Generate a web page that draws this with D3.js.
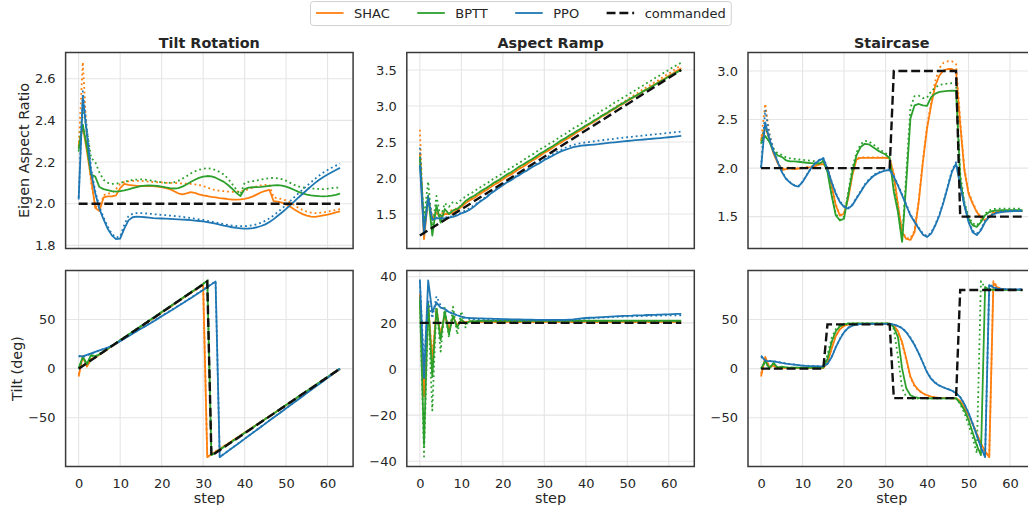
<!DOCTYPE html>
<html>
<head>
<meta charset="utf-8">
<script src="https://cdn.jsdelivr.net/npm/d3@7"></script>
<style>
  body { margin: 0; background: #fff; }
  svg { display: block; }
  text { font-family: "DejaVu Sans", sans-serif; fill: #262626; }
</style>
</head>
<body>
<svg id="chart" width="1028" height="505"></svg>
<script>
// ---------- data ----------
const steps = d3.range(64);
const methods = ["SHAC", "BPTT", "PPO"];
const titles = ["Tilt Rotation", "Aspect Ramp", "Staircase"];
const rowLabels = ["Eigen Aspect Ratio", "Tilt (deg)"];
const xTicks = [0, 10, 20, 30, 40, 50, 60];
const xLimits = [-3.15, 66.15];

// Tilt Rotation: eigen aspect ratio
const trAspShac = [2.28,2.37,2.25,2.12,1.98,1.965,2.03,2.035, 2.035,2.04,2.075,2.095,2.09,2.088,2.086,2.085,
  2.085,2.085,2.084,2.082,2.08,2.075,2.07,2.06, 2.05,2.045,2.05,2.056,2.052,2.045,2.04,2.037,
  2.033,2.03,2.027,2.025,2.022,2.02,2.02,2.021, 2.023,2.028,2.035,2.045,2.055,2.062,2.066,2.012,
  2.01,2.005,1.997,1.985,1.972,1.96,1.95,1.943, 1.938,1.937,1.94,1.944,1.948,1.953,1.958,1.963];
const trAspShacDot = [2.27,2.68,2.30,2.10,1.99,1.975,2.04,2.05, 2.05,2.07,2.095,2.105,2.107,2.11,2.11,2.11,
  2.108,2.106,2.104,2.103,2.102,2.1,2.1,2.1, 2.098,2.097,2.096,2.095,2.093,2.09,2.085,2.078,
  2.07,2.065,2.062,2.06,2.058,2.057,2.058,2.06, 2.063,2.07,2.077,2.083,2.088,2.09,2.09,2.03,
  2.027,2.022,2.016,2.005,1.993,1.98,1.97,1.962, 1.957,1.955,1.956,1.958,1.962,1.966,1.97,1.974];
const trAspBptt = [2.26,2.38,2.27,2.14,2.13,2.08,2.07,2.065, 2.06,2.058,2.06,2.064,2.069,2.075,2.08,2.084,
  2.087,2.088,2.087,2.085,2.082,2.078,2.075,2.073, 2.075,2.082,2.092,2.104,2.115,2.124,2.13,2.133,
  2.131,2.125,2.115,2.105,2.09,2.072,2.052,2.037, 2.07,2.077,2.079,2.08,2.081,2.083,2.086,2.088,
  2.089,2.087,2.082,2.075,2.066,2.057,2.05,2.044, 2.04,2.038,2.036,2.035,2.036,2.039,2.043,2.048];
const trAspBpttDot = [2.25,2.46,2.35,2.22,2.2,2.15,2.115,2.1, 2.095,2.096,2.1,2.105,2.11,2.114,2.116,2.117,
  2.116,2.113,2.11,2.106,2.103,2.1,2.1,2.103, 2.11,2.12,2.132,2.145,2.155,2.163,2.168,2.17,
  2.168,2.162,2.152,2.14,2.12,2.095,2.068,2.045, 2.1,2.105,2.108,2.112,2.116,2.12,2.123,2.124,
  2.122,2.118,2.11,2.1,2.09,2.083,2.078,2.075, 2.073,2.072,2.071,2.07,2.072,2.075,2.077,2.078];
const trAspPpo = [2.02,2.51,2.33,2.15,2.05,1.975,1.925,1.88, 1.848,1.83,1.832,1.88,1.92,1.935,1.938,1.937,
  1.935,1.933,1.931,1.93,1.929,1.928,1.927,1.926, 1.925,1.924,1.923,1.921,1.919,1.917,1.915,1.912,
  1.908,1.904,1.9,1.895,1.891,1.887,1.884,1.882, 1.88,1.881,1.883,1.887,1.893,1.901,1.912,1.926,
  1.942,1.958,1.975,1.993,2.011,2.03,2.048,2.066, 2.083,2.1,2.115,2.128,2.14,2.151,2.162,2.172];
const trAspPpoDot = [2.03,2.54,2.36,2.17,2.06,1.985,1.935,1.89, 1.855,1.838,1.842,1.9,1.94,1.952,1.955,1.955,
  1.954,1.952,1.95,1.948,1.946,1.945,1.943,1.941, 1.939,1.937,1.934,1.931,1.928,1.925,1.922,1.918,
  1.914,1.91,1.906,1.902,1.898,1.895,1.893,1.892, 1.892,1.894,1.897,1.902,1.909,1.918,1.93,1.944,
  1.96,1.977,1.995,2.013,2.032,2.05,2.068,2.086, 2.103,2.12,2.136,2.15,2.162,2.173,2.183,2.192];
const trAspCmdSteps = [0, 63];
const trAspCmdVals = [2.0, 2.0];

// Aspect Ramp: eigen aspect ratio
const arAspShac = [2.35,1.15,1.72,1.42,1.52,1.45,1.50,1.50, 1.52,1.55,1.60,1.65,1.69,1.72,1.76,1.80,
  1.83,1.87,1.91,1.94,1.98,2.02,2.05,2.09, 2.13,2.16,2.20,2.24,2.27,2.31,2.35,2.38,
  2.42,2.46,2.49,2.53,2.56,2.60,2.64,2.67, 2.71,2.75,2.78,2.82,2.86,2.89,2.93,2.96,
  3.00,3.03,3.07,3.10,3.14,3.17,3.21,3.24, 3.28,3.31,3.35,3.38,3.42,3.45,3.49,3.525];
const arAspShacDot = [2.67,1.2,1.75,1.45,1.55,1.5,1.53,1.54, 1.56,1.58,1.62,1.67,1.70,1.74,1.78,1.81,
  1.85,1.89,1.92,1.96,2.00,2.03,2.07,2.10, 2.14,2.18,2.21,2.25,2.29,2.32,2.36,2.40,
  2.43,2.47,2.51,2.54,2.58,2.62,2.65,2.69, 2.73,2.76,2.80,2.83,2.87,2.91,2.94,2.98,
  3.02,3.05,3.09,3.13,3.16,3.20,3.24,3.27, 3.31,3.34,3.38,3.42,3.45,3.49,3.53,3.565];
const arAspBptt = [2.3,1.3,1.75,1.2,1.62,1.38,1.57,1.5, 1.55,1.57,1.62,1.68,1.72,1.75,1.79,1.83,
  1.86,1.90,1.94,1.97,2.01,2.05,2.08,2.12, 2.16,2.19,2.23,2.26,2.30,2.34,2.37,2.41,
  2.44,2.48,2.52,2.55,2.59,2.62,2.66,2.69, 2.73,2.76,2.80,2.83,2.87,2.90,2.94,2.97,
  3.01,3.04,3.075,3.11,3.14,3.175,3.21,3.24, 3.27,3.31,3.34,3.37,3.41,3.44,3.47,3.5];
const arAspBpttDot = [2.25,1.45,1.95,1.3,1.75,1.45,1.65,1.6, 1.67,1.65,1.7,1.74,1.78,1.81,1.85,1.89,
  1.92,1.96,2.0,2.03,2.07,2.11,2.14,2.18, 2.21,2.25,2.29,2.32,2.36,2.40,2.43,2.47,
  2.50,2.54,2.58,2.61,2.65,2.69,2.72,2.76, 2.79,2.83,2.87,2.90,2.94,2.97,3.01,3.05,
  3.08,3.12,3.15,3.19,3.22,3.26,3.29,3.33, 3.36,3.40,3.43,3.47,3.50,3.54,3.57,3.60];
const arAspPpo = [2.18,1.22,1.72,1.42,1.44,1.44,1.44,1.45, 1.46,1.48,1.51,1.53,1.56,1.60,1.65,1.69,
  1.73,1.78,1.82,1.86,1.90,1.94,1.97,2.01, 2.04,2.08,2.11,2.15,2.18,2.21,2.25,2.28,
  2.31,2.34,2.37,2.39,2.41,2.43,2.44,2.45, 2.455,2.46,2.465,2.47,2.477,2.484,2.49,2.496,
  2.502,2.508,2.514,2.52,2.525,2.53,2.535,2.54, 2.545,2.55,2.555,2.56,2.566,2.572,2.578,2.584];
const arAspPpoDot = [2.42,1.28,1.76,1.44,1.45,1.45,1.45,1.46, 1.47,1.49,1.52,1.55,1.58,1.62,1.66,1.70,
  1.74,1.79,1.83,1.87,1.91,1.95,1.98,2.02, 2.05,2.09,2.12,2.16,2.19,2.23,2.26,2.30,
  2.33,2.36,2.39,2.42,2.44,2.46,2.475,2.485, 2.495,2.503,2.51,2.518,2.525,2.532,2.539,2.546,
  2.553,2.56,2.566,2.572,2.578,2.584,2.59,2.596, 2.602,2.608,2.614,2.62,2.626,2.632,2.638,2.645];
const arAspCmdSteps = [0, 63];
const arAspCmdVals = [1.2, 3.5];

// Staircase: eigen aspect ratio
const scAspShac = [2.3,2.42,2.3,2.15,2.05,1.98,1.99,2.0, 1.99,1.995,2.0,2.005,2.01,2.02,2.035,2.04,
  2.0,1.82,1.617,1.51,1.53,1.686,1.926,2.09, 2.105,2.105,2.105,2.105,2.105,2.105,2.105,2.1,
  1.926,1.617,1.34,1.27,1.26,1.34,1.65,2.06, 2.406,2.646,2.85,2.955,3.007,3.02,3.02,3.0,
  2.45,1.98,1.74,1.634,1.547,1.49,1.46,1.497, 1.54,1.55,1.553,1.555,1.556,1.556,1.556,1.556];
const scAspShacDot = [2.28,2.66,2.35,2.17,2.06,1.99,2.0,2.01, 2.0,2.0,2.005,2.01,2.015,2.025,2.04,2.045,
  2.02,1.84,1.63,1.52,1.54,1.7,1.94,2.1, 2.11,2.11,2.11,2.11,2.11,2.11,2.11,2.105,
  1.94,1.63,1.35,1.28,1.275,1.36,1.67,2.08, 2.43,2.68,2.9,3.03,3.085,3.1,3.1,3.07,
  2.5,2.0,1.755,1.645,1.555,1.495,1.465,1.5, 1.545,1.555,1.558,1.56,1.56,1.56,1.56,1.56];
const scAspBptt = [2.27,2.33,2.27,2.17,2.13,2.115,2.08,2.07, 2.068,2.065,2.06,2.055,2.05,2.045,2.045,2.07,
  1.96,1.72,1.514,1.46,1.48,1.72,1.96,2.13, 2.217,2.25,2.245,2.215,2.185,2.16,2.14,2.10,
  1.754,1.547,1.24,1.85,2.51,2.646,2.66,2.645, 2.64,2.73,2.767,2.784,2.79,2.794,2.796,2.796,
  1.89,1.617,1.48,1.41,1.394,1.445,1.514,1.547, 1.56,1.565,1.567,1.567,1.567,1.567,1.567,1.567];
const scAspBpttDot = [2.25,2.44,2.3,2.2,2.15,2.135,2.11,2.1, 2.095,2.09,2.085,2.08,2.075,2.07,2.065,2.08,
  1.98,1.74,1.53,1.47,1.5,1.75,2.0,2.16, 2.245,2.28,2.275,2.245,2.21,2.18,2.155,2.11,
  1.8,1.57,1.25,1.95,2.62,2.74,2.745,2.72, 2.725,2.79,2.83,2.855,2.865,2.87,2.875,2.875,
  1.95,1.65,1.5,1.43,1.41,1.46,1.53,1.565, 1.578,1.582,1.583,1.583,1.583,1.583,1.583,1.583];
const scAspPpo = [2.0,2.47,2.30,2.17,2.065,1.96,1.89,1.85, 1.82,1.81,1.857,1.926,1.995,2.046,2.08,2.10,
  1.99,1.857,1.737,1.65,1.60,1.583,1.617,1.686, 1.754,1.823,1.874,1.916,1.943,1.96,1.975,1.98,
  1.91,1.82,1.72,1.617,1.514,1.445,1.377,1.315, 1.29,1.325,1.41,1.514,1.65,1.806,1.96,2.046,
  1.82,1.617,1.445,1.34,1.31,1.36,1.445,1.497, 1.524,1.54,1.547,1.552,1.555,1.556,1.557,1.557];
const scAspPpoDot = [2.01,2.60,2.35,2.19,2.07,1.965,1.895,1.855, 1.825,1.815,1.86,1.93,2.0,2.05,2.085,2.105,
  2.0,1.865,1.745,1.658,1.608,1.59,1.625,1.695, 1.763,1.832,1.883,1.924,1.951,1.968,1.982,1.988,
  1.92,1.83,1.73,1.627,1.524,1.455,1.387,1.326, 1.30,1.335,1.42,1.525,1.662,1.818,1.975,2.06,
  1.835,1.63,1.458,1.355,1.325,1.372,1.455,1.506, 1.532,1.548,1.555,1.559,1.562,1.563,1.564,1.564];
const scAspCmdSteps = [0, 31, 32, 47, 48, 63];
const scAspCmdVals = [2.0, 2.0, 3.0, 3.0, 1.5, 1.5];

// Tilt Rotation: tilt (deg)
const trTiltShac = [-8,13,2,10,11,14,17,20, 22.8,25.6,28.4,31.2,34.1,37,39.8,42.7,
  45.5,48.4,51.2,54.1,57,59.8,62.7,65.5, 68.4,71.3,74.1,77,79.8,82.7,85.5,-90,
  -87,-84.5,-81.8,-79,-76.3,-73.5,-70.8,-68, -65.2,-62.4,-59.6,-56.8,-54,-51.2,-48.4,-45.6,
  -42.8,-40,-37.2,-34.4,-31.6,-28.8,-26,-23.2, -20.4,-17.6,-14.8,-12,-9.2,-6.3,-3.4,-0.5];
const trTiltShacDot = [-6,11,3,9,11.5,14.3,17.2,20.1, 22.9,25.7,28.5,31.3,34.2,37.1,39.9,42.8,
  45.6,48.5,51.3,54.2,57.1,59.9,62.8,65.6, 68.5,71.4,74.2,77.1,79.9,82.8,85.7,-89.5,
  -86.8,-84.2,-81.5,-78.8,-76,-73.3,-70.5,-67.8, -65,-62.2,-59.4,-56.6,-53.8,-51,-48.2,-45.4,
  -42.6,-39.8,-37,-34.2,-31.4,-28.6,-25.8,-23, -20.2,-17.4,-14.6,-11.8,-9,-6.1,-3.2,-0.3];
const trTiltBptt = [0.5,12,5,14,12.5,14.5,17.5,20.3, 23.2,26,28.9,31.7,34.6,37.5,40.3,43.2,
  46,48.9,51.7,54.6,57.5,60.3,63.2,66, 68.9,71.8,74.6,77.5,80.3,83.2,86.1,89.5,
  -88,-85.3,-82.5,-79.7,-76.9,-74,-71.2,-68.3, -65.5,-62.6,-59.8,-56.9,-54.1,-51.2,-48.4,-45.5,
  -42.7,-39.8,-37,-34.1,-31.3,-28.4,-25.6,-22.7, -19.9,-17,-14.2,-11.3,-8.5,-5.6,-2.8,0.3];
const trTiltBpttDot = [0,10.5,4,13,12,15,17.8,20.6, 23.4,26.2,29.1,31.9,34.8,37.7,40.5,43.4,
  46.2,49.1,51.9,54.8,57.7,60.5,63.4,66.2, 69.1,72,74.8,77.7,80.5,83.4,86.3,89.8,
  -87.8,-85.1,-82.3,-79.5,-76.7,-73.8,-71,-68.1, -65.3,-62.4,-59.6,-56.7,-53.9,-51,-48.2,-45.3,
  -42.5,-39.6,-36.8,-33.9,-31.1,-28.2,-25.4,-22.5, -19.7,-16.8,-14,-11.1,-8.3,-5.4,-2.6,0.5];
const trTiltPpo = [13,12.5,14,15.5,17,18.5,20,21.5, 23.2,25.5,28,30.5,33,35.5,38,40.5,
  43,45.5,48,50.6,53.2,55.8,58.4,61, 63.6,66.3,69,71.7,74.4,77.2,80,82.8,
  85.7,88.6,-90,-86.9,-83.8,-80.7,-77.6,-74.5, -71.4,-68.3,-65.2,-62.1,-59,-55.9,-52.8,-49.7,
  -46.6,-43.5,-40.4,-37.3,-34.2,-31.1,-28,-24.9, -21.8,-18.7,-15.6,-12.5,-9.4,-6.3,-3.2,-0.1];
const trTiltPpoDot = [12.5,12,13.6,15.2,16.8,18.4,20,21.6, 23.4,25.8,28.3,30.8,33.3,35.8,38.3,40.8,
  43.3,45.8,48.3,50.9,53.5,56.1,58.7,61.3, 63.9,66.6,69.3,72,74.7,77.5,80.3,83.1,
  86,88.9,-89.8,-86.7,-83.6,-80.5,-77.4,-74.3, -71.2,-68.1,-65,-61.9,-58.8,-55.7,-52.6,-49.5,
  -46.4,-43.3,-40.2,-37.1,-34,-30.9,-27.8,-24.7, -21.6,-18.5,-15.4,-12.3,-9.2,-6.1,-3,0.1];
const trTiltCmdSteps = [0, 31, 32, 63];
const trTiltCmdVals = [0, 88.6, -88.6, 0];

// Aspect Ramp: tilt (deg)
const arTiltShac = [32.7,-12,28,3,26,14,24,17, 22.5,19,21,20.2,20.6,20.4,20.5,20.4,
  20.4,20.4,20.4,20.4,20.4,20.4,20.4,20.4, 20.4,20.4,20.4,20.4,20.4,20.4,20.4,20.4,
  20.4,20.4,20.4,20.4,20.4,20.4,20.4,20.4, 20.4,20.4,20.4,20.4,20.4,20.4,20.4,20.4,
  20.4,20.4,20.4,20.4,20.4,20.4,20.4,20.4, 20.4,20.4,20.4,20.4,20.4,20.4,20.4,20.4];
const arTiltShacDot = [32,-8,27,6,25,15.5,23.5,17.5, 22,19.3,20.8,20.2,20.5,20.4,20.4,20.4,
  20.3,20.3,20.3,20.3,20.3,20.3,20.3,20.3, 20.3,20.3,20.3,20.3,20.3,20.3,20.3,20.3,
  20.3,20.3,20.3,20.3,20.3,20.3,20.3,20.3, 20.3,20.3,20.3,20.3,20.3,20.3,20.3,20.3,
  20.3,20.3,20.3,20.3,20.3,20.3,20.3,20.3, 20.3,20.3,20.3,20.3,20.3,20.3,20.3,20.3];
const arTiltBptt = [30,-33,29,-3.5,26,12.5,25,15, 23,18,21.5,19.5,20.7,20.6,20.8,20.9,
  20.9,20.9,20.9,20.9,20.9,20.9,20.9,20.9, 20.9,20.9,20.9,20.9,20.9,20.9,20.9,20.9,
  20.9,20.9,20.9,20.9,20.9,20.9,20.9,20.9, 20.9,20.9,20.9,20.9,20.9,20.9,20.9,20.9,
  20.9,20.9,20.9,20.9,20.9,20.9,20.9,20.9, 20.9,20.9,20.9,20.9,20.9,20.9,20.9,20.9];
const arTiltBpttDot = [31,-38,27,-18,28,7.5,26.5,13.5, 27,15,25,18,22,20.5,21,20.8,
  20.8,20.8,20.8,20.8,20.8,20.8,20.8,20.8, 20.8,20.8,20.8,20.8,20.8,20.8,20.8,20.8,
  20.8,20.8,20.8,20.8,20.8,20.8,20.8,20.8, 20.8,20.8,20.8,20.8,20.8,20.8,20.8,20.8,
  20.8,20.8,20.8,20.8,20.8,20.8,20.8,20.8, 20.8,20.8,20.8,20.8,20.8,20.8,20.8,20.8];
const arTiltPpo = [38.8,-4,38.4,24.5,28.8,26.6,26,24.7, 24,23.3,22.7,22.3,22.1,22,21.9,21.9,
  21.8,21.8,21.7,21.7,21.6,21.6,21.5,21.5, 21.5,21.4,21.4,21.4,21.3,21.3,21.3,21.3,
  21.3,21.3,21.3,21.3,21.4,21.5,21.7,21.9, 22.1,22.2,22.3,22.4,22.5,22.6,22.7,22.8,
  22.9,23.0,23.05,23.1,23.2,23.25,23.3,23.4, 23.45,23.5,23.6,23.65,23.7,23.8,23.85,23.9];
const arTiltPpoDot = [38,2,30,22,31.5,27.5,25.5,24.8, 24,23.3,22.6,22.1,21.8,21.6,21.5,21.4,
  21.4,21.3,21.3,21.2,21.2,21.2,21.1,21.1, 21.1,21.1,21.1,21.1,21.1,21.1,21.1,21.1,
  21.1,21.1,21.1,21.1,21.2,21.3,21.5,21.7, 21.9,22.0,22.1,22.2,22.3,22.4,22.5,22.6,
  22.7,22.75,22.8,22.85,22.9,22.95,23.0,23.05, 23.1,23.1,23.15,23.2,23.2,23.25,23.3,23.3];
const arTiltCmdSteps = [0, 63];
const arTiltCmdVals = [20, 20];

// Staircase: tilt (deg)
const scTiltShac = [-8,12,1.3,3,1,0.8,0.6,0.5, 0.5,0.5,0.5,0.5,0.5,0.5,0.5,0.5,
  6,20,33,40,43.5,45,45.5,45.6, 45.6,45.6,45.6,45.6,45.6,45.6,45.6,45.5,
  44,38,27,10,-8,-17,-22,-25, -27,-28.5,-29.3,-29.7,-29.9,-30,-30,-30.2,
  -33,-39,-47,-56,-66,-76,-84,-90, 87,82.5,81,80.5,80.3,80.2,80.1,80.1];
const scTiltShacDot = [-5,10,2,3.5,1.2,1,0.8,0.7, 0.6,0.6,0.6,0.6,0.6,0.6,0.6,0.6,
  7,21.5,34,40.5,43.8,45.2,45.6,45.7, 45.7,45.7,45.7,45.7,45.7,45.7,45.7,45.6,
  43.5,37,25.5,8.5,-9,-18,-22.5,-25.5, -27.3,-28.7,-29.4,-29.8,-30,-30,-30.1,-30.3,
  -33.5,-39.5,-47.5,-56.5,-66.5,-76.5,-85,-89, 89,83,81.2,80.6,80.3,80.2,80.1,80.1];
const scTiltBptt = [0,8,0,6,1,2,1.2,1, 1,1,1,1,1,1,1,1,
  10,27,38,43,45,45.8,46,46, 46,46,46,46,46,46,46,46,
  42,32,0,-20,-27,-29,-29.8,-30, -30.2,-30.2,-30.2,-30.2,-30.2,-30.2,-30.2,-30.2,
  -35,-42,-52,-65,-78,-88,83,80.5, 80.2,80.1,80,80,80,80,80,80];
const scTiltBpttDot = [0,6,1,5,1,1.5,1.2,1, 1,1,1,1,1,1,1,1,
  14,31,40,44,45.5,46,46,46, 46,46,46,46,46,46,46,46,
  40,12,-20,-28.5,-31,-30.5,-30.2,-30.2, -30.2,-30.2,-30.2,-30.2,-30.2,-30.2,-30.2,-30.2,
  -36,-45,-57,-70,-86,89,82,80.5, 80.2,80.1,80,80,80,80,80,80];
const scTiltPpo = [13.2,8,7.7,7.3,6.6,5.8,5.1,4.5, 4,3.5,3.1,2.8,2.6,2.5,2.4,2.4,
  4.7,11.5,21.7,30,37,41.4,43.7,44.7, 45.2,45.4,45.5,45.5,45.5,45.5,45.5,45.4,
  44.8,43.2,41,37,31,24,15.5,6, -3.7,-10.5,-14.6,-17.3,-19.2,-20.8,-22.4,-25,
  -29,-36,-45,-56,-68,-80,-90,85, 82.5,81.3,81,80.8,80.7,80.6,80.5,80.5];
const scTiltPpoDot = [12,8.5,8,7.5,6.8,6,5.3,4.7, 4.2,3.7,3.3,3,2.8,2.7,2.6,2.6,
  5,12,22.2,30.5,37.4,41.7,43.9,44.8, 45.3,45.5,45.6,45.6,45.6,45.6,45.6,45.5,
  45,43.5,41.4,37.5,31.6,24.6,16.1,6.6, -3.1,-10,-14.2,-17,-19,-20.6,-22.2,-24.8,
  -28.8,-35.8,-44.8,-55.8,-67.8,-79.8,-89.5,86, 83,81.5,81.1,80.9,80.8,80.7,80.6,80.6];
const scTiltCmdSteps = [0, 15, 16, 31, 32, 47, 48, 63];
const scTiltCmdVals = [0, 0, 45, 45, -30, -30, 80, 80];

// Axis limits and ticks per panel (row-major: top row then bottom row)
const yLimits = [[1.785, 2.726], [1.021, 3.743], [1.172, 3.19],
                 [-99.5, 99.8], [-42.3, 42.7], [-99.5, 99.8]];
const yTickVals = [[1.8, 2.0, 2.2, 2.4, 2.6], [1.5, 2.0, 2.5, 3.0, 3.5], [1.5, 2.0, 2.5, 3.0],
                   [-50, 0, 50], [-40, -20, 0, 20, 40], [-50, 0, 50]];

// ---------- assemble panels ----------
const panels = [
  { solid: [trAspShac, trAspBptt, trAspPpo], dotted: [trAspShacDot, trAspBpttDot, trAspPpoDot],
    cmd: [trAspCmdSteps, trAspCmdVals] },
  { solid: [arAspShac, arAspBptt, arAspPpo], dotted: [arAspShacDot, arAspBpttDot, arAspPpoDot],
    cmd: [arAspCmdSteps, arAspCmdVals] },
  { solid: [scAspShac, scAspBptt, scAspPpo], dotted: [scAspShacDot, scAspBpttDot, scAspPpoDot],
    cmd: [scAspCmdSteps, scAspCmdVals] },
  { solid: [trTiltShac, trTiltBptt, trTiltPpo], dotted: [trTiltShacDot, trTiltBpttDot, trTiltPpoDot],
    cmd: [trTiltCmdSteps, trTiltCmdVals] },
  { solid: [arTiltShac, arTiltBptt, arTiltPpo], dotted: [arTiltShacDot, arTiltBpttDot, arTiltPpoDot],
    cmd: [arTiltCmdSteps, arTiltCmdVals] },
  { solid: [scTiltShac, scTiltBptt, scTiltPpo], dotted: [scTiltShacDot, scTiltBpttDot, scTiltPpoDot],
    cmd: [scTiltCmdSteps, scTiltCmdVals] }
];

// ---------- layout & style ----------
const colLeft = [65.6, 406.8, 748];
const rowTop = [52.5, 270.5];
const pw = 287.5, ph = 196;
const colors = { SHAC: "#ff7f0e", BPTT: "#2ca02c", PPO: "#1f77b4" };
const lw = 1.8;
const dotDash = "1.8,3";
const cmdDash = "8.9,3.9";

const svg = d3.select("#chart");
const defs = svg.append("defs");

panels.forEach((p, i) => {
  const col = i % 3, row = Math.floor(i / 3);
  const left = colLeft[col], top = rowTop[row];
  const xs = d3.scaleLinear().domain(xLimits).range([left, left + pw]);
  const ys = d3.scaleLinear().domain(yLimits[i]).range([top + ph, top]);
  const g = svg.append("g");

  defs.append("clipPath").attr("id", "clip" + i)
    .append("rect").attr("x", left).attr("y", top).attr("width", pw).attr("height", ph);

  // grid
  g.append("g").selectAll("line").data(xTicks).join("line")
    .attr("x1", d => xs(d)).attr("x2", d => xs(d))
    .attr("y1", top).attr("y2", top + ph)
    .attr("stroke", "#e5e5e5").attr("stroke-width", 1.1);
  g.append("g").selectAll("line").data(yTickVals[i]).join("line")
    .attr("x1", left).attr("x2", left + pw)
    .attr("y1", d => ys(d)).attr("y2", d => ys(d))
    .attr("stroke", "#e5e5e5").attr("stroke-width", 1.1);

  const plot = g.append("g").attr("clip-path", `url(#clip${i})`);
  const line = d3.line().x((d, j) => xs(steps[j])).y(d => ys(d));

  methods.forEach((m, k) => {
    plot.append("path").attr("d", line(p.solid[k]))
      .attr("fill", "none").attr("stroke", colors[m]).attr("stroke-width", lw)
      .attr("stroke-linejoin", "round");
    plot.append("path").attr("d", line(p.dotted[k]))
      .attr("fill", "none").attr("stroke", colors[m]).attr("stroke-width", lw)
      .attr("stroke-dasharray", dotDash).attr("stroke-linejoin", "round");
  });

  const cmdPts = p.cmd[0].map((s, j) => [s, p.cmd[1][j]]);
  plot.append("path")
    .attr("d", d3.line().x(d => xs(d[0])).y(d => ys(d[1]))(cmdPts))
    .attr("fill", "none").attr("stroke", "#111").attr("stroke-width", 2.4)
    .attr("stroke-dasharray", cmdDash);

  // frame
  g.append("rect").attr("x", left).attr("y", top).attr("width", pw).attr("height", ph)
    .attr("fill", "none").attr("stroke", "#3a3a3a").attr("stroke-width", 1.5);

  // y axis
  const fmt = row === 0 ? d3.format(".1f") : d3.format("d");
  const ya = g.append("g").attr("transform", `translate(${left},0)`)
    .call(d3.axisLeft(ys).tickValues(yTickVals[i]).tickSize(0).tickPadding(10).tickFormat(fmt));
  ya.select(".domain").remove();
  ya.selectAll("text").attr("font-size", 13).attr("font-family", "DejaVu Sans").attr("fill", "#262626");

  // x axis (bottom row only)
  if (row === 1) {
    const xa = g.append("g").attr("transform", `translate(0,${top + ph})`)
      .call(d3.axisBottom(xs).tickValues(xTicks).tickSize(0).tickPadding(11.8).tickFormat(d3.format("d")));
    xa.select(".domain").remove();
    xa.selectAll("text").attr("font-size", 13).attr("font-family", "DejaVu Sans").attr("fill", "#262626");
    svg.append("text").attr("x", left + pw / 2).attr("y", 503)
      .attr("text-anchor", "middle").attr("font-size", 14.4).text("step");
  } else {
    svg.append("text").attr("x", left + pw / 2).attr("y", 48)
      .attr("text-anchor", "middle").attr("font-size", 14.4).attr("font-weight", "bold")
      .text(titles[col]);
  }
});

// row labels
[[28.5, rowTop[0] + ph / 2, rowLabels[0]], [21.5, rowTop[1] + ph / 2, rowLabels[1]]].forEach(([x, y, t]) => {
  svg.append("text").attr("x", x).attr("y", y)
    .attr("transform", `rotate(-90,${x},${y})`)
    .attr("text-anchor", "middle").attr("font-size", 14.4).text(t);
});

// legend
const legendItems = [
  { label: "SHAC", color: colors.SHAC, dash: null },
  { label: "BPTT", color: colors.BPTT, dash: null },
  { label: "PPO", color: colors.PPO, dash: null },
  { label: "commanded", color: "#111", dash: cmdDash }
];
const legend = svg.append("g");
const box = legend.append("rect").attr("x", 310.5).attr("y", 1.5).attr("height", 24).attr("rx", 3)
  .attr("fill", "#fff").attr("fill-opacity", 0.85).attr("stroke", "#d0d0d0").attr("stroke-width", 1);
let lx = 316;
legendItems.forEach(it => {
  legend.append("line").attr("x1", lx).attr("x2", lx + 27.5).attr("y1", 13).attr("y2", 13)
    .attr("stroke", it.color).attr("stroke-width", it.dash ? 2.4 : lw)
    .attr("stroke-dasharray", it.dash);
  const t = legend.append("text").attr("x", lx + 38).attr("y", 17.6).attr("font-size", 13).text(it.label);
  lx = lx + 38 + t.node().getComputedTextLength() + 27.5;
});
box.attr("width", lx - 27.5 + 5.5 - 310.5);
</script>
</body>
</html>
